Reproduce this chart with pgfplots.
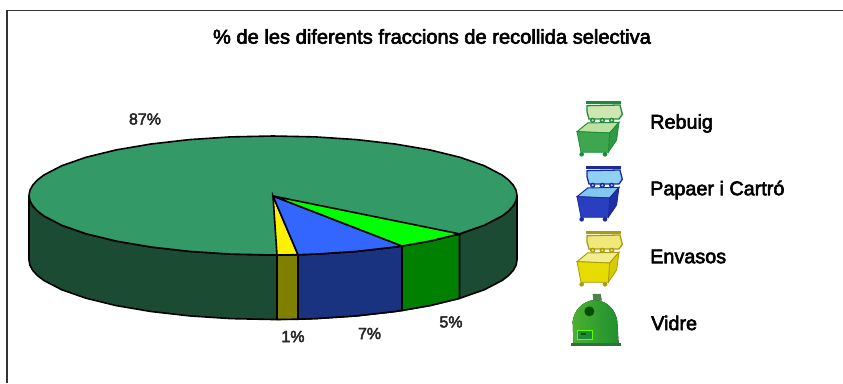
\documentclass[border=0pt]{standalone}
\usepackage{fontspec}
\setmainfont{Liberation Sans}
\newfontfamily\hb{Liberation Sans}[FakeBold=3]
\usepackage{pgfplots}
\pgfplotsset{compat=1.18}
\definecolor{topg}{HTML}{339966}
\definecolor{sideg}{HTML}{1C4B33}
\definecolor{sideo}{HTML}{808000}
\definecolor{blueT}{HTML}{3366FF}
\definecolor{blueS}{HTML}{1A3380}
\definecolor{limeT}{HTML}{00FF00}
\definecolor{limeS}{HTML}{008000}
\definecolor{gD}{HTML}{1E8B3A}\definecolor{gF}{HTML}{3DA64F}\definecolor{gS}{HTML}{2F9A45}\definecolor{gL}{HTML}{CFE6B0}\definecolor{gI}{HTML}{BFE0A0}
\definecolor{bD}{HTML}{1A2A9A}\definecolor{bF}{HTML}{2A3FC0}\definecolor{bS}{HTML}{1F2FA8}\definecolor{bL}{HTML}{8FD0F5}\definecolor{bI}{HTML}{80C8F0}
\definecolor{yD}{HTML}{A89C10}\definecolor{yF}{HTML}{E6DC00}\definecolor{yS}{HTML}{D8CC00}\definecolor{yL}{HTML}{F0E878}\definecolor{yI}{HTML}{F2EE90}
\definecolor{vL}{HTML}{4CB030}\definecolor{vR}{HTML}{1F9030}
\newcommand{\bin}[7]{%
\begin{scope}[shift={(#1pt,#2pt)},x=0.3333pt,y=-0.3333pt]
 \fill[#3] (50,178) circle (7); \fill[#3] (120,178) circle (7);
 \fill[#6,draw=#3,line width=1.3pt] (66,32)--(165,30)--(172,58)--(162,72)--(72,72)--(66,50)--cycle;
 \fill[#3] (64,19) rectangle (168,28);
 \fill[#3] (83,76) circle (8); \fill[#3] (112,76) circle (8); \fill[#3] (140,76) circle (8);
 \fill[#6] (83,76) circle (3.5); \fill[#6] (112,76) circle (3.5); \fill[#6] (140,76) circle (3.5);
 \fill[#7,draw=#3,line width=1pt] (36,110)--(68,84)--(162,82)--(134,114)--cycle;
 \fill[#5,draw=#3,line width=.8pt] (134,114)--(162,82)--(155,135)--(130,172)--cycle;
 \fill[#4,draw=#3,line width=.8pt] (36,110)--(134,114)--(130,172)--(48,172)--cycle;
\end{scope}}
\begin{document}
\begin{tikzpicture}
\useasboundingbox (0,0) rectangle (843pt,383pt);
\begin{axis}[scale only axis,width=843pt,height=383pt,xmin=0,xmax=843,ymin=0,ymax=383,y dir=reverse,hide axis,clip=false]
% frame
\addplot[black!80,line width=1.4pt] coordinates {(7,383) (7,10.5) (843,10.5)};
% wall
\addplot[fill=sideg,draw=black,line width=1.6pt] coordinates {
(517,195.5) (516.1,200.7) (513.3,205.8) (508.7,210.9) (502.3,215.85) (484.3,225.25) (459.9,233.75) (429.8,241.1) (395,247) (356.4,251.4) (315.4,254.1) (273,255) (230.6,254.1) (189.6,251.4) (151,247) (116.2,241.1) (86.1,233.75) (61.7,225.25) (43.7,215.85) (37.3,210.9) (32.7,205.8) (29.9,200.7) (29,195.5)
(29,260) (29.9,265.2) (32.7,270.3) (37.3,275.4) (43.7,280.35) (61.7,289.75) (86.1,298.25) (116.2,305.6) (151,311.5) (189.6,315.9) (230.6,318.6) (273,319.5) (315.4,318.6) (356.4,315.9) (395,311.5) (429.8,305.6) (459.9,298.25) (484.3,289.75) (502.3,280.35) (508.7,275.4) (513.3,270.3) (516.1,265.2) (517,260)} -- cycle;
% wall pieces
\addplot[fill=sideo,draw=black,line width=1.6pt] coordinates {(277,255) (298,254.7) (298,319.2) (277,319.5)} -- cycle;
\addplot[fill=blueS,draw=black,line width=1.6pt] coordinates {(298,254.7) (315.4,254.1) (356.4,251.4) (395,247) (402,246) (402,310.5) (395,311.5) (356.4,315.9) (315.4,318.6) (298,319.2)} -- cycle;
\addplot[fill=limeS,draw=black,line width=1.6pt] coordinates {(402,246) (429.8,241.1) (459.5,233.9) (459.5,298.4) (429.8,305.6) (402,310.5)} -- cycle;
% top
\addplot[fill=topg,draw=black,line width=1.6pt] coordinates {
(517,195.5) (516.1,200.7) (513.3,205.8) (508.7,210.9) (502.3,215.85) (484.3,225.25) (459.9,233.75) (429.8,241.1) (395,247) (356.4,251.4) (315.4,254.1) (273,255) (230.6,254.1) (189.6,251.4) (151,247) (116.2,241.1) (86.1,233.75) (61.7,225.25) (43.7,215.85) (37.3,210.9) (32.7,205.8) (29.9,200.7) (29,195.5)
(29.9,190.3) (32.7,185.2) (37.3,180.1) (43.7,175.15) (61.7,165.75) (86.1,157.25) (116.2,149.9) (151,144) (189.6,139.6) (230.6,136.9) (273,136) (315.4,136.9) (356.4,139.6) (395,144) (429.8,149.9) (459.9,157.25) (484.3,165.75) (502.3,175.15) (508.7,180.1) (513.3,185.2) (516.1,190.3)} -- cycle;
% wedges
\addplot[fill=yellow,draw=black,line width=1.6pt] coordinates {(273,196) (277,255) (298,254.7)} -- cycle;
\addplot[fill=blueT,draw=black,line width=1.6pt] coordinates {(273,196) (298,254.7) (315.4,254.1) (356.4,251.4) (395,247) (402,246)} -- cycle;
\addplot[fill=limeT,draw=black,line width=1.6pt] coordinates {(273,196) (402,246) (429.8,241.1) (459.5,233.9)} -- cycle;
% text
\node[font=\hb\fontsize{20.1}{22}\selectfont,text=black] at (axis cs:432,36.5) {\% de les diferents fraccions de recollida selectiva};
\node[font=\hb\fontsize{16}{18}\selectfont,text=black!85] at (axis cs:145,119) {87\%};
\node[font=\hb\fontsize{16}{18}\selectfont,text=black!85] at (axis cs:293,336.5) {1\%};
\node[font=\hb\fontsize{16}{18}\selectfont,text=black!85] at (axis cs:369.5,333.5) {7\%};
\node[font=\hb\fontsize{16}{18}\selectfont,text=black!85] at (axis cs:451,322) {5\%};
\node[font=\hb\fontsize{19.8}{22}\selectfont,anchor=west,inner sep=0pt] at (axis cs:650,123.5) {Rebuig};
\node[font=\hb\fontsize{19.8}{22}\selectfont,anchor=west,inner sep=0pt] at (axis cs:650,190) {Papaer i Cartró};
\node[font=\hb\fontsize{19.8}{22}\selectfont,anchor=west,inner sep=0pt] at (axis cs:650,256.5) {Envasos};
\node[font=\hb\fontsize{19.8}{22}\selectfont,anchor=west,inner sep=0pt] at (axis cs:651,323) {Vidre};
\end{axis}
% legend icons (pixel coordinates measured from the top of the picture)
\bin{565}{288}{gD}{gF}{gS}{gL}{gI}
\bin{565}{223}{bD}{bF}{bS}{bL}{bI}
\bin{565}{158}{yD}{yF}{yS}{yL}{yI}
\begin{scope}[shift={(560pt,95pt)},x=0.3333pt,y=-0.3333pt]
 \fill[green!30!black!70!white] (98,18)--(122,18)--(126,38)--(100,38)--cycle;
 \fill[left color=vL,right color=vR] (40,165)--(38,100) .. controls (42,70) and (65,38) .. (105,36) .. controls (145,38) and (168,70) .. (172,100)--(176,165)--cycle;
 \fill[gF!70!black] (32,166) rectangle (182,175);
 \fill[green!30!black] (88,70) circle (15);
 \fill[gD,draw=green!65!yellow,line width=.6pt] (52,128) rectangle (96,155);
 \fill[black!70!green] (62,135) rectangle (78,140);
\end{scope}
\end{tikzpicture}
\end{document}
